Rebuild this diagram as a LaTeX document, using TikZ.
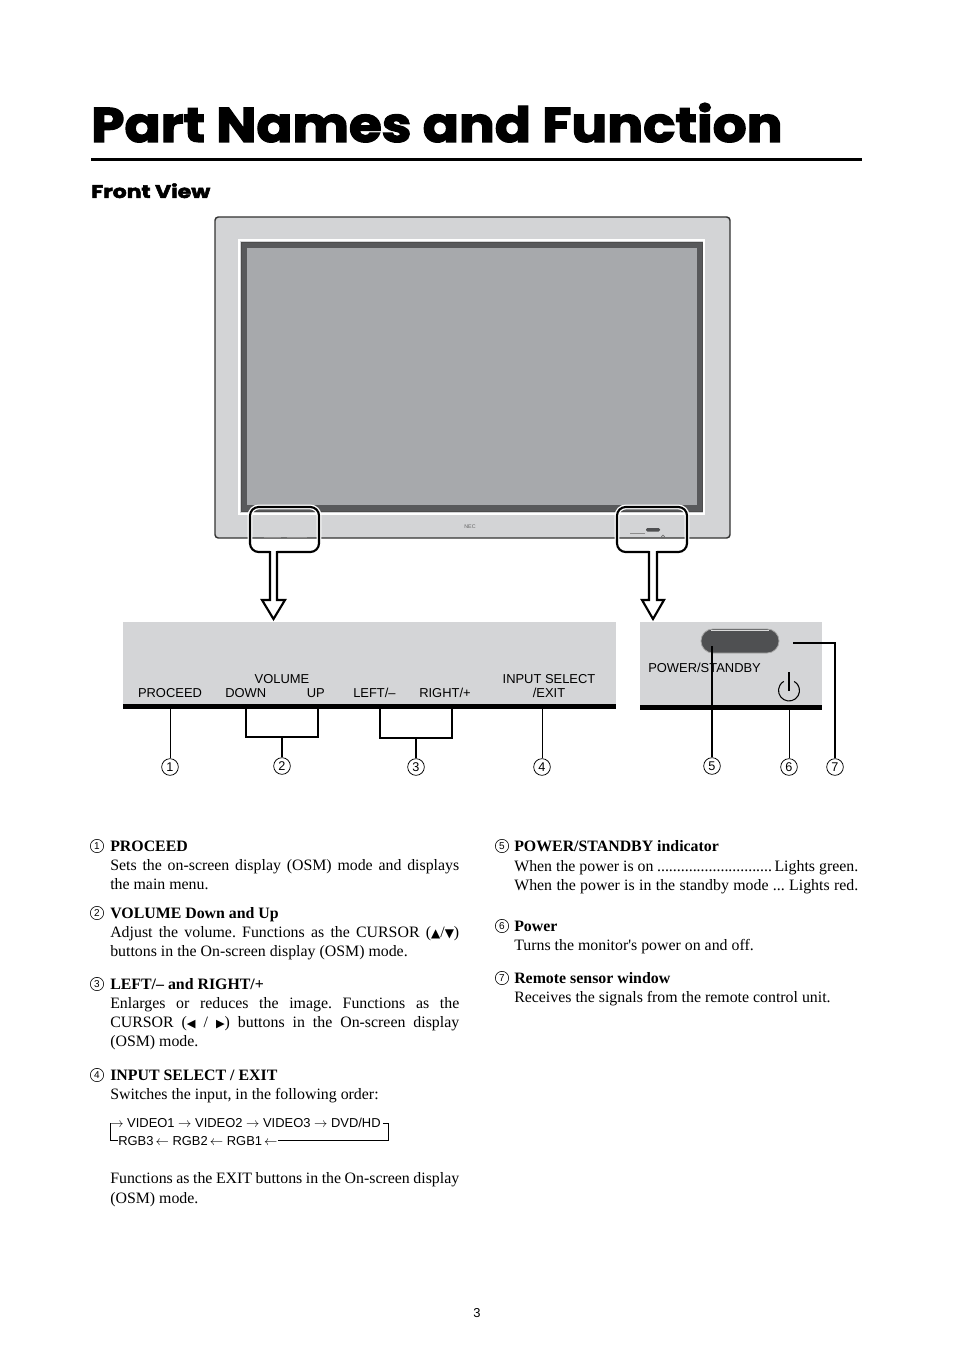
\documentclass[tikz,border=0pt]{standalone}
\usepackage{fontspec}
\usepackage{graphicx}
\setmainfont{Liberation Serif}
\setsansfont{Liberation Sans}
\newfontfamily\titlefont{Poppins}[BoldFeatures={FakeBold=2.5}]
\newfontfamily\symfont{DejaVu Sans}
\newfontfamily\plainserif{Liberation Serif}[Ligatures=NoCommon]
\definecolor{bezel}{HTML}{D3D4D6}
\definecolor{band}{HTML}{58595B}
\definecolor{screen}{HTML}{A7A9AC}
\definecolor{pill}{HTML}{4F5052}
\definecolor{panel}{HTML}{D4D5D7}
\tikzset{
  cnum/.style={circle,draw,line width=0.55pt,inner sep=0pt,minimum size=12.5pt,font=\sffamily\fontsize{9.5}{10}\selectfont},
  tnum/.style={circle,draw,line width=0.45pt,inner sep=0pt,minimum size=10pt,font=\sffamily\fontsize{7.5}{8}\selectfont},
  body/.style={anchor=base west,inner sep=0pt,font=\fontsize{11.9}{14}\selectfont},
  head/.style={anchor=base west,inner sep=0pt,font=\fontsize{11.9}{14}\selectfont\bfseries},
  lbl/.style={inner sep=0pt,font=\sffamily\fontsize{9.7}{11}\selectfont},
  callout/.style={line width=1.6pt,rounded corners=6.5pt},
  halo/.style={white,line width=3.6pt,rounded corners=6.5pt},
  leadthin/.style={line width=0.75pt},
  leadthick/.style={line width=1.6pt}
}
\newcommand{\js}[1]{\makebox[261.75pt][s]{#1}}
\frenchspacing
\begin{document}
\begin{tikzpicture}[x=0.75pt,y=-0.75pt]
\useasboundingbox[fill=white] (0,0) rectangle (954,1351);

% ---------- title ----------
\node[anchor=base west,inner sep=0pt] (title) at (91,142)
  {\resizebox{518.25pt}{29.25pt}{\titlefont\bfseries Part Names and Function}};
\fill (91,158.5) rectangle (862,161.5);
\node[anchor=base west,inner sep=0pt] (front) at (91,198)
  {\resizebox{89.25pt}{11pt}{\titlefont\bfseries Front View}};

% ---------- monitor ----------
\draw[fill=bezel,draw=black!80,line width=1.1pt,rounded corners=2.5pt] (215,217) rectangle (730,538);
\draw[white,line width=0.9pt] (239,240) rectangle (704,514);
\draw[fill=band,draw=black!70,line width=0.5pt] (241,242) rectangle (702,511);
\fill[screen] (247,248) rectangle (697,505);
\node[inner sep=0pt,font=\sffamily\fontsize{4}{4}\selectfont,text=black!60] (nec) at (470,527) {NEC};
\draw[black!45,line width=0.6pt] (264,537) -- (281,537);
\draw[black!45,line width=0.6pt] (287,537) -- (307,537);
\draw[black!45,line width=0.5pt] (630,533) -- (645,533);
\fill[pill,rounded corners=1pt] (646,528) rectangle (660,531.5);
\draw[black!60,line width=0.4pt] (663,536.5) circle (1.6);

% ---------- callouts ----------
\draw[halo] (277,552) -- (319,552) -- (319,507) -- (250,507) -- (250,552) -- (270,552);
\draw[callout] (277,552) -- (319,552) -- (319,507) -- (250,507) -- (250,552) -- (270,552);
\draw[fill=white,line width=1.6pt,line join=miter] (270,551) -- (270,600) -- (262,600) -- (273.5,619) -- (285,600) -- (277,600) -- (277,551);

\draw[halo] (657,552) -- (687,552) -- (687,507) -- (617,507) -- (617,552) -- (649,552);
\draw[callout] (657,552) -- (687,552) -- (687,507) -- (617,507) -- (617,552) -- (649,552);
\draw[fill=white,line width=1.6pt,line join=miter] (649,551) -- (649,600) -- (642,600) -- (653,619) -- (664,600) -- (657,600) -- (657,551);

% ---------- left panel ----------
\fill[panel] (123,622) rectangle (616,705);
\fill (123,704) rectangle (616,708.5);
\node[lbl,anchor=base] (proceed) at (170,697) {PROCEED};
\node[lbl,anchor=base] (volume) at (282,683) {VOLUME};
\node[lbl,anchor=base west] (down) at (225,697) {DOWN};
\node[lbl,anchor=base east] (up) at (325,697) {UP};
\node[lbl,anchor=base west] (left) at (353,697) {LEFT/–};
\node[lbl,anchor=base west] (right) at (419,697) {RIGHT/+};
\node[lbl,anchor=base] (input) at (549,683) {INPUT SELECT};
\node[lbl,anchor=base] (exit) at (549,697) {/EXIT};

% ---------- right panel ----------
\fill[panel] (640,622) rectangle (822,706);
\fill (640,705) rectangle (822,709.5);
\node[lbl,anchor=base west] (pwrlbl) at (648,672) {POWER/STANDBY};
\draw[fill=pill,draw=black!35,line width=0.6pt,rounded corners=8.9pt] (701,629) rectangle (779,653);
\draw[white!70!gray,line width=0.7pt] (711,630.3) -- (769,630.3);
\draw[line width=0.8pt] (794.25,681.4) arc (-60:240:10.5);
\draw[line width=0.8pt] (789,672) -- (789,691);

% ---------- leaders and numbers ----------
\node[cnum] (n1) at (170,767) {1};
\node[cnum] (n2) at (282,766) {2};
\node[cnum] (n3) at (416,767) {3};
\node[cnum] (n4) at (542,767) {4};
\node[cnum] (n5) at (712,766) {5};
\node[cnum] (n6) at (789,767) {6};
\node[cnum] (n7) at (835,767) {7};
\coordinate (b1) at (170,708);
\draw[leadthin] (b1) -- (n1.north);
\coordinate (v2a) at (246,708); \coordinate (v2b) at (318,708);
\draw[leadthick] (v2a) -- (246,737) -- (318,737) -- (v2b);
\draw[leadthick] (282,737) -- (n2.north);
\coordinate (v3a) at (380,708); \coordinate (v3b) at (452,708);
\draw[leadthick] (v3a) -- (380,738) -- (452,738) -- (v3b);
\draw[leadthick] (416,738) -- (n3.north);
\coordinate (b4) at (542,708);
\draw[leadthin] (b4) -- (n4.north);
\coordinate (ind) at (712,646);
\draw[leadthick] (ind) -- (n5.north);
\coordinate (b6) at (789,709);
\draw[leadthin] (b6) -- (n6.north);
\coordinate (sens) at (793,643);
\draw[leadthick] (sens) -- (835,643) -- (n7.north);

% ---------- left column text ----------
\node[tnum] (t1) at (97,846) {1};
\node[head] (h1) at (110,851) {PROCEED};
\node[body] (l1a) at (110,870) {\js{Sets the on-screen display (OSM) mode and displays}};
\node[body] (l1b) at (110,889) {the main menu.};

\node[tnum] (t2) at (97,913) {2};
\node[head] (h2) at (110,918) {VOLUME Down and Up};
\node[body] (l2a) at (110,937) {\js{Adjust the volume. Functions as the CURSOR ({\symfont\fontsize{9}{10}\selectfont ▲}/{\symfont\fontsize{9}{10}\selectfont ▼})}};
\node[body] (l2b) at (110,956) {buttons in the On-screen display (OSM) mode.};

\node[tnum] (t3) at (97,984) {3};
\node[head] (h3) at (110,989) {LEFT/– and RIGHT/+};
\node[body] (l3a) at (110,1008) {\js{Enlarges or reduces the image. Functions as the}};
\node[body] (l3b) at (110,1027) {\js{CURSOR ({\symfont\fontsize{8.5}{10}\selectfont ◀} / {\symfont\fontsize{8.5}{10}\selectfont ▶}) buttons in the On-screen display}};
\node[body] (l3c) at (110,1046) {(OSM) mode.};

\node[tnum] (t4) at (97,1075) {4};
\node[head] (h4) at (110,1080) {INPUT SELECT / EXIT};
\node[body] (l4a) at (110,1099) {Switches the input, in the following order:};
\node[lbl,anchor=base west] (row1) at (110,1127) {$\rightarrow$ VIDEO1 $\rightarrow$ VIDEO2 $\rightarrow$ VIDEO3 $\rightarrow$ DVD/HD};
\node[lbl,anchor=base west] (row2) at (118,1145) {RGB3\,$\leftarrow$ RGB2\,$\leftarrow$ RGB1\,$\leftarrow$};
\coordinate (fa) at (110.3,1123.3);
\coordinate (fb) at (110.3,1140.5);
\coordinate (fc) at (388,1123.3);
\coordinate (fd) at (388,1140.5);
\draw[line width=0.6pt] (fa) -- (fb) -- (fb -| row2.west);
\draw[line width=0.6pt] ([xshift=1.5pt]row1.east |- fc) -- (fc) -- (fd) -- (row2.east |- fd);
\node[body] (l4b) at (110,1183) {\js{Functions as the EXIT buttons in the On-screen display}};
\node[body] (l4c) at (110,1203) {(OSM) mode.};

% ---------- right column text ----------
\node[tnum] (t5) at (502,846) {5};
\node[head] (h5) at (514,851) {POWER/STANDBY indicator};
\node[body] (l5a) at (514,871) {\makebox[258pt]{When the power is on\leaders\hbox{.}\hfill Lights green.}};
\node[body] (l5b) at (514,890) {\makebox[258pt][s]{When the power is in the standby mode ... Lights red.}};

\node[tnum] (t6) at (502,926) {6};
\node[head] (h6) at (514,931) {Power};
\node[body] (l6a) at (514,950) {Turns the monitor{\plainserif\fontsize{11.9}{14}\selectfont '}s power on and off.};

\node[tnum] (t7) at (502,978) {7};
\node[head] (h7) at (514,983) {Remote sensor window};
\node[body] (l7a) at (514,1002) {Receives the signals from the remote control unit.};

\node[lbl,anchor=base] (pageno) at (477,1317) {3};
\end{tikzpicture}
\end{document}
